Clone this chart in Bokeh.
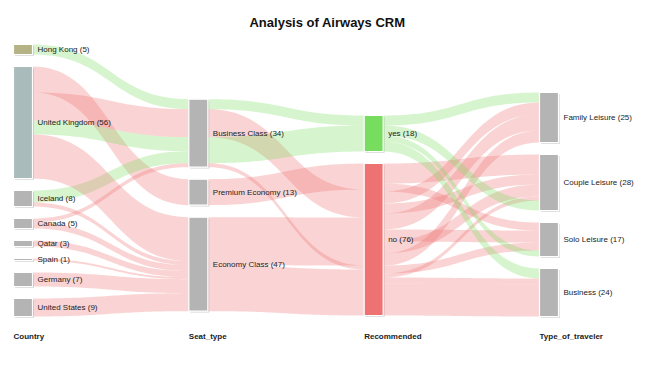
from bokeh.plotting import figure
from bokeh.models import Range1d, ColumnDataSource
from bokeh.embed import file_html
from bokeh.resources import INLINE
from bokeh.core.properties import value

# ---------------- data ----------------
title_text = "Analysis of Airways CRM"
column_titles = ["Country", "Seat_type", "Recommended", "Type_of_traveler"]
countries = ["Hong Kong", "United Kingdom", "Iceland", "Canada", "Qatar", "Spain", "Germany", "United States"]
seat_types = ["Business Class", "Premium Economy", "Economy Class"]
recommended = ["yes", "no"]
traveler_types = ["Family Leisure", "Couple Leisure", "Solo Leisure", "Business"]

# stage 1: country -> seat type (ribbon coloured by recommendation)
s1_source = ["Hong Kong", "United Kingdom", "United Kingdom", "United Kingdom", "Iceland",
             "United Kingdom", "Iceland", "Canada", "Canada", "Qatar", "Spain", "Germany", "United States"]
s1_target = ["Business Class", "Premium Economy", "Business Class", "Business Class", "Business Class",
             "Economy Class", "Economy Class", "Business Class", "Economy Class", "Economy Class",
             "Economy Class", "Economy Class", "Economy Class"]
s1_rec = ["yes", "no", "no", "yes", "yes", "no", "no", "no", "no", "no", "no", "no", "no"]
s1_value = [5, 13, 14, 7, 6, 22, 2, 2, 3, 3, 1, 7, 9]

# stage 2: seat type -> recommended
s2_source = ["Business Class", "Premium Economy", "Business Class", "Business Class",
             "Economy Class", "Business Class", "Economy Class"]
s2_target = ["yes", "no", "no", "yes", "no", "no", "no"]
s2_value = [5, 13, 14, 13, 24, 2, 23]

# stage 3: recommended -> type of traveler
s3_source = ["yes", "no", "no", "no", "no", "no", "no", "no", "no", "no", "no",
             "yes", "yes", "yes", "no", "no"]
s3_target = ["Family Leisure", "Couple Leisure", "Solo Leisure", "Family Leisure", "Couple Leisure",
             "Family Leisure", "Solo Leisure", "Couple Leisure", "Family Leisure", "Solo Leisure",
             "Couple Leisure", "Couple Leisure", "Solo Leisure", "Business", "Business", "Business"]
s3_value = [5, 10, 4, 6, 5, 8, 6, 6, 6, 4, 2, 5, 3, 5, 3, 16]

# ---------------- styles / layout parameters ----------------
WIDTH, HEIGHT = 634, 350
X0, X1, Y0, Y1 = 13, 558, 44, 316
NODE_W = 19
NODE_PAD = 12
ITERATIONS = 32
FONT = "Liberation Sans"
REC_COLORS = {"yes": "#77dd5e", "no": "#ef7272"}
NODE_COLORS = {"Hong Kong": "#b5b385", "United Kingdom": "#a9bbbb", "yes": "#77dd5e", "no": "#ef7272"}
DEFAULT_NODE = "#b4b4b4"

# ---------------- build graph ----------------
layers = [countries, seat_types, recommended, traveler_types]
nodes = {}
columns = []
for li, names in enumerate(layers):
    col = []
    for nm in names:
        nd = dict(name=nm, layer=li, src=[], tgt=[])
        nodes[nm] = nd
        col.append(nd)
    columns.append(col)

links = []


def add(src, tgt, vals, recs):
    for s, t, v, r in zip(src, tgt, vals, recs):
        lk = dict(source=nodes[s], target=nodes[t], value=v, rec=r)
        links.append(lk)
        nodes[s]["src"].append(lk)
        nodes[t]["tgt"].append(lk)


add(s1_source, s1_target, s1_value, s1_rec)
add(s2_source, s2_target, s2_value, s2_target)
add(s3_source, s3_target, s3_value, s3_source)

for nd in nodes.values():
    nd["value"] = max(sum(l["value"] for l in nd["src"]), sum(l["value"] for l in nd["tgt"]))

n_layers = len(columns)
for nd in nodes.values():
    nd["x0"] = X0 + nd["layer"] * (X1 - X0 - NODE_W) / (n_layers - 1)
    nd["x1"] = nd["x0"] + NODE_W

# classic sankey relaxation, node order kept (node.y relative to Y0)
SIZE = Y1 - Y0
ky = min((SIZE - (len(c) - 1) * NODE_PAD) / sum(n["value"] for n in c) for c in columns)
for col in columns:
    for i, nd in enumerate(col):
        nd["y"] = float(i)
        nd["dy"] = nd["value"] * ky
for l in links:
    l["width"] = l["value"] * ky


def center(nd):
    return nd["y"] + nd["dy"] / 2


def resolve_collisions():
    for col in columns:
        y0 = 0.0
        for nd in col:
            dy = y0 - nd["y"]
            if dy > 0:
                nd["y"] += dy
            y0 = nd["y"] + nd["dy"] + NODE_PAD
        dy = y0 - NODE_PAD - SIZE
        if dy > 0:
            nd = col[-1]
            nd["y"] -= dy
            y0 = nd["y"]
            for i in range(len(col) - 2, -1, -1):
                nd = col[i]
                dy = nd["y"] + nd["dy"] + NODE_PAD - y0
                if dy > 0:
                    nd["y"] -= dy
                y0 = nd["y"]


def relax_left_to_right(alpha):
    for col in columns:
        for nd in col:
            if nd["tgt"]:
                y = sum(center(l["source"]) * l["value"] for l in nd["tgt"]) / sum(l["value"] for l in nd["tgt"])
                nd["y"] += (y - center(nd)) * alpha


def relax_right_to_left(alpha):
    for col in reversed(columns):
        for nd in col:
            if nd["src"]:
                y = sum(center(l["target"]) * l["value"] for l in nd["src"]) / sum(l["value"] for l in nd["src"])
                nd["y"] += (y - center(nd)) * alpha


resolve_collisions()
alpha = 1.0
for _ in range(ITERATIONS):
    alpha *= 0.99
    relax_right_to_left(alpha)
    resolve_collisions()
    relax_left_to_right(alpha)
    resolve_collisions()

for nd in nodes.values():
    nd["y0"] = Y0 + nd["y"]
    nd["y1"] = nd["y0"] + nd["dy"]

# link breadths (stacked in data order)
for nd in nodes.values():
    y = nd["y0"]
    for l in nd["src"]:
        l["sy0"] = y
        y += l["width"]
    y = nd["y0"]
    for l in nd["tgt"]:
        l["ty0"] = y
        y += l["width"]


def bezier(p0, p1, p2, p3, n=40):
    pts = []
    for k in range(n + 1):
        t = k / n
        a = (1 - t) ** 3
        b = 3 * (1 - t) ** 2 * t
        c = 3 * (1 - t) * t ** 2
        d = t ** 3
        pts.append((a * p0[0] + b * p1[0] + c * p2[0] + d * p3[0],
                    a * p0[1] + b * p1[1] + c * p2[1] + d * p3[1]))
    return pts


xs_list, ys_list, col_list = [], [], []
for l in links:
    xs = l["source"]["x1"]
    xt = l["target"]["x0"]
    xm = (xs + xt) / 2
    sy0, sy1 = l["sy0"], l["sy0"] + l["width"]
    ty0, ty1 = l["ty0"], l["ty0"] + l["width"]
    top = bezier((xs, sy0), (xm, sy0), (xm, ty0), (xt, ty0))
    bot = bezier((xt, ty1), (xm, ty1), (xm, sy1), (xs, sy1))
    pts = top + bot
    xs_list.append([p[0] for p in pts])
    ys_list.append([p[1] for p in pts])
    col_list.append(REC_COLORS[l["rec"]])

# ---------------- figure ----------------
p = figure(width=WIDTH, height=HEIGHT, output_backend="svg", toolbar_location=None,
           x_range=Range1d(0, WIDTH), y_range=Range1d(HEIGHT, 0),
           min_border=0, outline_line_color=None, background_fill_color="white")
p.axis.visible = False
p.grid.visible = False

p.patches(xs=xs_list, ys=ys_list, fill_color=col_list, fill_alpha=0.3, line_color=None)

all_nodes = [nd for col in columns for nd in col]
node_src = ColumnDataSource(dict(
    left=[n["x0"] for n in all_nodes], right=[n["x1"] for n in all_nodes],
    top=[n["y0"] for n in all_nodes], bottom=[n["y1"] for n in all_nodes],
    sleft=[n["x0"] + 1.5 for n in all_nodes], sright=[n["x1"] + 1.5 for n in all_nodes],
    stop=[n["y0"] + 1.5 for n in all_nodes], sbottom=[n["y1"] + 1.5 for n in all_nodes],
    color=[NODE_COLORS.get(n["name"], DEFAULT_NODE) for n in all_nodes],
    lx=[n["x1"] + 5 for n in all_nodes], ly=[(n["y0"] + n["y1"]) / 2 for n in all_nodes],
    label=["%s (%d)" % (n["name"], n["value"]) for n in all_nodes],
))
p.quad(left="sleft", right="sright", top="stop", bottom="sbottom", source=node_src,
       fill_color="#000000", fill_alpha=0.12, line_color=None)
p.quad(left="left", right="right", top="top", bottom="bottom", source=node_src,
       fill_color="color", line_color="white", line_width=1.2)
p.text(x="lx", y="ly", text="label", source=node_src, text_font=value(FONT),
       text_font_size="8px", text_baseline="middle", text_align="left", text_color="#222222")

col_src = ColumnDataSource(dict(
    x=[X0 + i * (X1 - X0 - NODE_W) / (n_layers - 1) for i in range(n_layers)],
    y=[Y1 + 20] * n_layers,
    text=column_titles,
))
p.text(x="x", y="y", text="text", source=col_src, text_font=value(FONT), text_font_size="8px",
       text_font_style="bold", text_baseline="middle", text_align="left", text_color="#222222")

p.text(x=[WIDTH / 2 + 10], y=[Y0 - 22], text=[title_text], text_font=value(FONT),
       text_font_size="13px", text_font_style="bold", text_baseline="middle", text_align="center",
       text_color="#111111")

open("out.html", "w").write(file_html(p, INLINE))
